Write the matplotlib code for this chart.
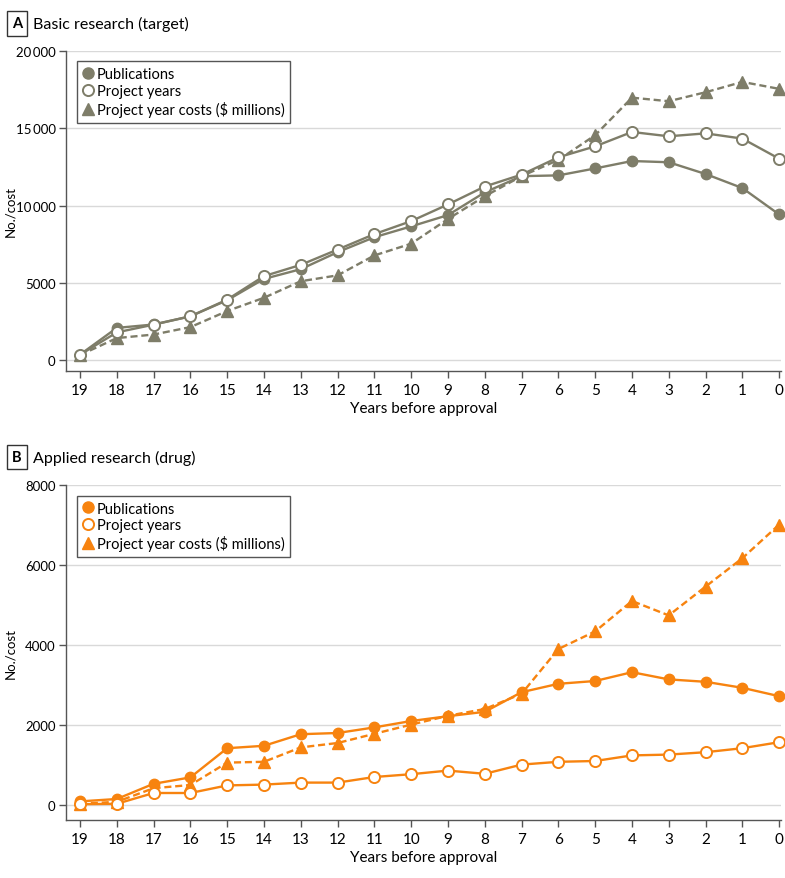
import matplotlib
matplotlib.use("Agg")
import matplotlib.pyplot as plt
from matplotlib.lines import Line2D
from matplotlib import font_manager

FONT = 'Lato'
for cand in ['DejaVu Sans Condensed', 'Liberation Sans Narrow', 'Lato']:
    try:
        font_manager.findfont(font_manager.FontProperties(family=cand), fallback_to_default=False)
        FONT = cand
        break
    except Exception:
        pass
plt.rcParams['font.family'] = [FONT, 'DejaVu Sans']

years = list(range(19, -1, -1))

a_pubs = [350, 2080, 2300, 2830, 3870, 5250, 5880, 6980, 7950, 8650, 9380, 10850, 11900, 11950, 12400, 12880, 12800, 12040, 11130, 9420]
a_proj = [340, 1790, 2290, 2830, 3910, 5430, 6160, 7150, 8150, 8990, 10070, 11230, 12000, 13120, 13830, 14760, 14480, 14670, 14330, 13030]
a_cost = [320, 1420, 1650, 2130, 3170, 4030, 5100, 5480, 6770, 7530, 9130, 10600, 11900, 12950, 14550, 16980, 16750, 17330, 18000, 17550]

b_pubs = [90, 150, 530, 690, 1420, 1480, 1770, 1800, 1940, 2100, 2220, 2330, 2820, 3030, 3100, 3320, 3140, 3080, 2930, 2720]
b_proj = [20, 30, 300, 300, 490, 510, 560, 560, 700, 770, 860, 780, 1010, 1080, 1100, 1240, 1260, 1320, 1420, 1570]
b_cost = [30, 80, 420, 500, 1060, 1080, 1440, 1550, 1780, 2010, 2230, 2400, 2780, 3900, 4340, 5100, 4740, 5460, 6170, 7010]

a_yticks = [0, 5000, 10000, 15000, 20000]
a_ylabels = ['0', '5000', '10\u2009000', '15\u2009000', '20\u2009000']
b_yticks = [0, 2000, 4000, 6000, 8000]
b_ylabels = ['0', '2000', '4000', '6000', '8000']

series_labels = ['Publications', 'Project years', 'Project year costs ($ millions)']

GRAY = '#7e7d69'
ORANGE = '#f7830f'
W, H = 785, 879
fig = plt.figure(figsize=(W / 100, H / 100), dpi=100)

FS = 10.5


def setup(ax, color, pubs, proj, cost, yticks, ylabels, ylim, panel_letter, title, title_y):
    ax.plot(years, pubs, color=color, lw=1.7, marker='o', ms=7.5, mfc=color, mec=color, clip_on=False, zorder=3)
    ax.plot(years, cost, color=color, lw=1.7, ls=(0, (3, 1.6)), marker='^', ms=8, mfc=color, mec=color, clip_on=False, zorder=4)
    ax.plot(years, proj, color=color, lw=1.7, marker='o', ms=8, mfc='white', mec=color, mew=1.4, clip_on=False, zorder=5)
    ax.set_xlim(19.38, -0.05)
    ax.set_ylim(*ylim)
    ax.set_xticks(years)
    ax.set_xticklabels([str(y) for y in years])
    ax.set_yticks(yticks)
    ax.set_yticklabels(ylabels)
    ax.grid(axis='y', color='#d9d9d9', lw=1.0, zorder=0)
    ax.set_axisbelow(True)
    for s in ['top', 'right']:
        ax.spines[s].set_visible(False)
    for s in ['left', 'bottom']:
        ax.spines[s].set_color('#555555')
        ax.spines[s].set_linewidth(1.0)
    ax.tick_params(axis='both', colors='#555555', labelcolor='black', labelsize=FS + 0.5, length=5, width=1.0)
    ax.tick_params(axis='y', labelsize=9.5, pad=2.5)
    ax.tick_params(axis='x', pad=4)
    ax.set_xlabel('Years before approval', fontsize=FS + 0.5)
    ax.xaxis.set_label_coords(0.5, -30 / ax.bbox.height)
    ax.set_ylabel('No./cost', fontsize=9.5)
    ax.yaxis.set_label_coords(-49.5 / 715, 0.5)
    handles = [
        Line2D([], [], ls='none', marker='o', ms=8, mfc=color, mec=color),
        Line2D([], [], ls='none', marker='o', ms=8, mfc='white', mec=color, mew=1.4),
        Line2D([], [], ls='none', marker='^', ms=9, mfc=color, mec=color),
    ]
    leg = ax.legend(handles, series_labels, loc='upper left', bbox_to_anchor=(0.0154, 0.968),
                    borderaxespad=0, fontsize=FS, handlelength=0.7, handletextpad=0.25,
                    labelspacing=0.2, borderpad=0.4, fancybox=False, framealpha=1, edgecolor='#555555')
    leg.get_frame().set_linewidth(1.0)
    fig.text(17 / W, 1 - title_y / H, panel_letter, fontsize=10.5, fontweight='bold', ha='center', va='center',
             bbox=dict(boxstyle='square,pad=0.35', fc='white', ec='#333333', lw=1.0))
    fig.text(33 / W, 1 - title_y / H, title, fontsize=11.5, ha='left', va='center')


axA = fig.add_axes([66 / W, 1 - 371.7 / H, 715 / W, (371.7 - 52) / H])
setup(axA, GRAY, a_pubs, a_proj, a_cost, a_yticks, a_ylabels, (-690, 20000), 'A', 'Basic research (target)', 24.5)

axB = fig.add_axes([66 / W, 1 - 821 / H, 715 / W, (821 - 486) / H])
setup(axB, ORANGE, b_pubs, b_proj, b_cost, b_yticks, b_ylabels, (-375, 8000), 'B', 'Applied research (drug)', 458)

fig.savefig('out.png', dpi=100)
